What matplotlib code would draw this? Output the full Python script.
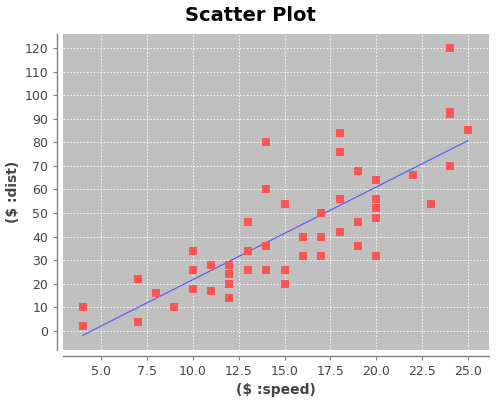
import numpy as np
import matplotlib
matplotlib.use("Agg")
import matplotlib.pyplot as plt

speed = [4, 4, 7, 7, 8, 9, 10, 10, 10, 11, 11, 12, 12, 12, 12, 13, 13, 13, 13,
         14, 14, 14, 14, 15, 15, 15, 16, 16, 17, 17, 17, 18, 18, 18, 18, 19, 19,
         19, 20, 20, 20, 20, 20, 22, 23, 24, 24, 24, 24, 25]
dist = [2, 10, 4, 22, 16, 10, 18, 26, 34, 17, 28, 14, 20, 24, 28, 26, 34, 34, 46,
        26, 36, 60, 80, 20, 26, 54, 32, 40, 32, 40, 50, 42, 56, 76, 84, 36, 46,
        68, 32, 48, 52, 56, 64, 66, 54, 70, 92, 93, 120, 85]
x_ticks = [5.0, 7.5, 10.0, 12.5, 15.0, 17.5, 20.0, 22.5, 25.0]
y_ticks = list(range(0, 121, 10))

fig = plt.figure(figsize=(5, 4), dpi=100)
ax = fig.add_axes([63/500, 1 - 350/400, 426/500, 316/400])
ax.set_facecolor("#C0C0C0")

slope, intercept = np.polyfit(speed, dist, 1)
xs = np.array([min(speed), max(speed)])
ax.plot(xs, intercept + slope * xs, color="#5555FF", lw=0.8, zorder=2)
ax.scatter(speed, dist, marker="s", s=32, color="#FF5555", linewidths=0, zorder=3)

ax.set_xlim(2.93, 26.14)
ax.set_ylim(-8.05, 125.9)
ax.set_xticks(x_ticks)
ax.set_xticklabels([f"{v:.1f}" for v in x_ticks])
ax.set_yticks(y_ticks)
ax.grid(True, color="white", linestyle=(0, (2, 2)), linewidth=0.6)
ax.set_axisbelow(True)

for s in ["top", "right"]:
    ax.spines[s].set_visible(False)
for s in ["left", "bottom"]:
    ax.spines[s].set_position(("outward", 4))
    ax.spines[s].set_color("#808080")
    ax.spines[s].set_linewidth(1.0)
ax.tick_params(colors="#808080", labelcolor="#444444", labelsize=9, length=3, width=0.8)

ax.set_xlabel("($ :speed)", fontsize=10, fontweight="bold", color="#444444", labelpad=4)
ax.set_ylabel("($ :dist)", fontsize=10, fontweight="bold", color="#444444", labelpad=3)
fig.suptitle("Scatter Plot", fontsize=14, fontweight="bold", y=0.985)

fig.savefig("out.png", dpi=100)
